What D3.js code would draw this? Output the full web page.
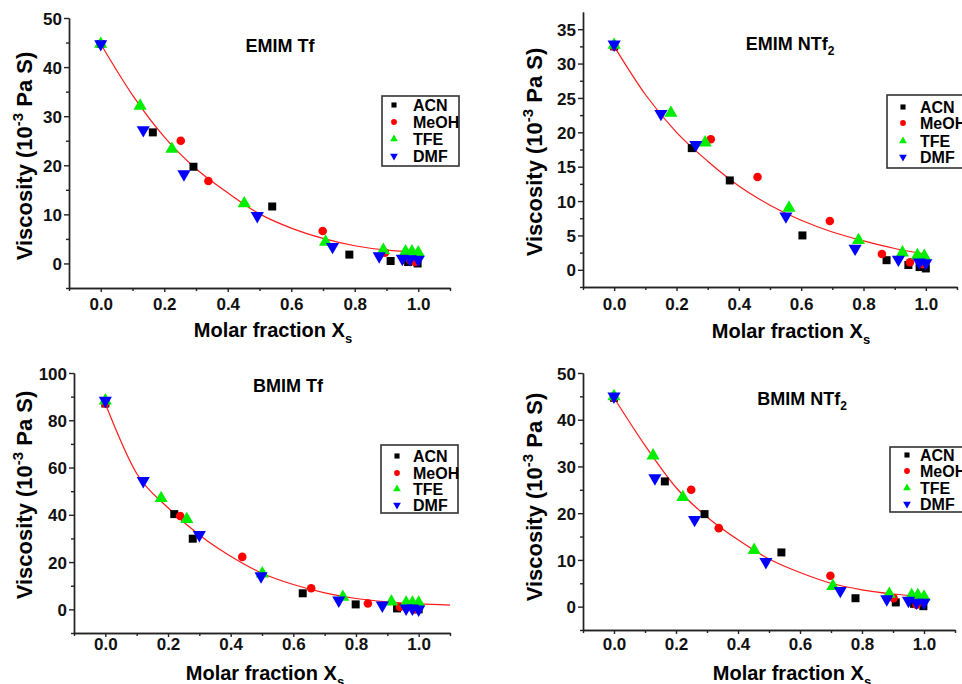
<!DOCTYPE html>
<html lang="en">
<head>
<meta charset="UTF-8">
<title>Viscosity vs molar fraction</title>
<script src="https://cdn.jsdelivr.net/npm/d3@7"></script>
<style>
  body { margin: 0; background: #fff; }
  svg { display: block; font-family: "Liberation Sans", Arial, sans-serif; font-weight: bold; }
  .axis path, .axis line { stroke: #222; stroke-width: 1.4; }
  .axis text { font-size: 17px; font-weight: bold; fill: #111; font-family: "Liberation Sans", Arial, sans-serif; }
</style>
</head>
<body>
<svg id="chart" width="962" height="684"></svg>
<script>
// solvents shown in each panel
const solvents = ["ACN", "MeOH", "TFE", "DMF"];
const colors   = ["#000000", "#ff0000", "#00ee00", "#0000ff"];
const xMajor   = [0, 0.2, 0.4, 0.6, 0.8, 1.0];
const xMinor   = [-0.1, 0.1, 0.3, 0.5, 0.7, 0.9, 1.1];

// EMIM Tf  [Xs, viscosity]
const emimTf_ACN  = [[0, 44.7], [0.164, 26.7], [0.292, 19.7], [0.54, 11.6], [0.783, 1.8], [0.913, 0.5], [0.968, 0.3], [0.998, 0.0]];
const emimTf_MeOH = [[0, 44.7], [0.252, 25.0], [0.339, 16.8], [0.699, 6.6], [0.895, 2.2], [0.974, 0.7], [0.99, 0.3]];
const emimTf_TFE  = [[0, 44.7], [0.124, 32.1], [0.224, 23.3], [0.452, 12.2], [0.708, 4.4], [0.89, 2.7], [0.96, 2.4], [0.98, 2.4], [1.0, 2.2]];
const emimTf_DMF  = [[0, 44.7], [0.134, 27.2], [0.262, 18.2], [0.493, 9.7], [0.73, 3.4], [0.877, 1.5], [0.95, 1.0], [0.974, 0.9], [1.0, 0.8]];
const emimTf_fit  = [[0, 44.7], [0.1, 34.3], [0.2, 25.8], [0.3, 19.3], [0.4, 14.4], [0.5, 10.1], [0.6, 7.2], [0.7, 5.1], [0.8, 3.6], [0.9, 2.7], [1.0, 2.3]];

// EMIM NTf2
const emimNTf2_ACN  = [[0, 32.5], [0.249, 17.7], [0.371, 13.0], [0.604, 5.0], [0.874, 1.4], [0.944, 0.7], [0.98, 0.4], [1.0, 0.2]];
const emimNTf2_MeOH = [[0, 32.5], [0.31, 19.0], [0.46, 13.5], [0.692, 7.1], [0.859, 2.3], [0.949, 1.1], [0.99, 0.8]];
const emimNTf2_TFE  = [[0, 32.7], [0.182, 22.8], [0.292, 18.5], [0.561, 9.0], [0.784, 4.3], [0.925, 2.5], [0.973, 2.1], [0.995, 2.0]];
const emimNTf2_DMF  = [[0, 32.8], [0.15, 22.7], [0.262, 18.2], [0.551, 7.8], [0.773, 3.1], [0.912, 1.5], [0.979, 1.1], [1.0, 1.0]];
const emimNTf2_fit  = [[0, 32.5], [0.1, 25.5], [0.2, 20.0], [0.3, 15.8], [0.4, 12.2], [0.5, 9.4], [0.6, 7.2], [0.7, 5.5], [0.8, 4.2], [0.9, 3.1], [1.0, 2.3]];

// BMIM Tf
const bmimTf_ACN  = [[0, 87.1], [0.22, 40.3], [0.279, 29.9], [0.63, 6.8], [0.799, 2.1], [0.931, 0.4], [1.0, 0.0]];
const bmimTf_MeOH = [[0, 87.1], [0.239, 39.5], [0.437, 22.2], [0.657, 8.9], [0.838, 2.5], [0.94, 1.0], [0.984, 0.0]];
const bmimTf_TFE  = [[0, 88.3], [0.178, 47.0], [0.26, 38.1], [0.501, 15.1], [0.758, 5.2], [0.913, 3.2], [0.96, 2.8], [0.98, 2.8], [1.0, 2.8]];
const bmimTf_DMF  = [[0, 88.3], [0.121, 54.4], [0.30, 31.5], [0.497, 14.1], [0.745, 3.8], [0.884, 1.7], [0.96, 0.4], [0.98, 0.4], [1.0, 0.0]];
const bmimTf_fit  = [[0, 87.0], [0.1, 57.5], [0.2, 43.0], [0.3, 31.5], [0.4, 22.5], [0.5, 15.3], [0.6, 10.5], [0.7, 7.0], [0.8, 4.6], [0.9, 3.2], [1.0, 2.3], [1.1, 1.8]];

// BMIM NTf2
const bmimNTf2_ACN  = [[0, 44.7], [0.164, 26.8], [0.292, 19.8], [0.54, 11.6], [0.779, 1.8], [0.909, 0.9], [0.968, 0.6], [0.998, 0.1]];
const bmimNTf2_MeOH = [[0, 44.7], [0.249, 25.0], [0.338, 16.8], [0.698, 6.6], [0.902, 1.8], [0.976, 0.4]];
const bmimNTf2_TFE  = [[0, 45.0], [0.126, 32.3], [0.222, 23.4], [0.452, 12.1], [0.706, 4.4], [0.888, 2.7], [0.96, 2.4], [0.98, 2.4], [1.0, 2.1]];
const bmimNTf2_DMF  = [[0, 45.0], [0.132, 27.5], [0.26, 18.6], [0.49, 9.6], [0.73, 3.4], [0.88, 1.6], [0.95, 1.3], [0.976, 0.9], [1.0, 0.9]];
const bmimNTf2_fit  = [[0, 44.7], [0.1, 34.5], [0.2, 25.5], [0.3, 19.2], [0.4, 14.3], [0.5, 10.2], [0.6, 7.3], [0.7, 5.0], [0.8, 3.6], [0.9, 2.7], [1.0, 2.1]];

const svg = d3.select("#chart");

const panels = [
  { ion: "EMIM", anion: "Tf", series: [emimTf_ACN, emimTf_MeOH, emimTf_TFE, emimTf_DMF], fit: emimTf_fit,
    yDom: [-5, 50], yMajor: d3.range(0, 51, 10), yMinor: d3.range(-5, 50, 10),
    x0: 69, x1: 450, y0: 288, y1: 18, title: [280, 52], ylab: [32, 156], xlab: [273, 337], tickBase: 310,
    legend: { x: 382, y: 96, w: 77, h: 70, mx: 394, tx: 413, rows: [105, 122, 139, 156] } },
  { ion: "EMIM", anion: "NTf", sub: "2", series: [emimNTf2_ACN, emimNTf2_MeOH, emimNTf2_TFE, emimNTf2_DMF], fit: emimNTf2_fit,
    yDom: [-2.5, 37.5], yMajor: d3.range(0, 36, 5), yMinor: d3.range(-2.5, 37.5, 5),
    x0: 583, x1: 957, y0: 287, y1: 12, title: [790, 50], ylab: [542, 152], xlab: [791, 338], tickBase: 310,
    legend: { x: 887, y: 95, w: 90, h: 73, mx: 903, tx: 920, rows: [107, 123, 141, 157] } },
  { ion: "BMIM", anion: "Tf", series: [bmimTf_ACN, bmimTf_MeOH, bmimTf_TFE, bmimTf_DMF], fit: bmimTf_fit,
    yDom: [-10, 100], yMajor: d3.range(0, 101, 20), yMinor: d3.range(-10, 100, 20),
    x0: 74, x1: 450, y0: 633, y1: 373, title: [288, 392], ylab: [32, 495], xlab: [265, 680], tickBase: 650,
    legend: { x: 381, y: 445, w: 77, h: 68, mx: 397, tx: 413, rows: [456, 473, 489, 505] } },
  { ion: "BMIM", anion: "NTf", sub: "2", series: [bmimNTf2_ACN, bmimNTf2_MeOH, bmimNTf2_TFE, bmimNTf2_DMF], fit: bmimNTf2_fit,
    yDom: [-5, 50], yMajor: d3.range(0, 51, 10), yMinor: d3.range(-5, 50, 10),
    x0: 583, x1: 955, y0: 630, y1: 373, title: [802, 405], ylab: [542, 497], xlab: [792, 680], tickBase: 650,
    legend: { x: 890, y: 447, w: 90, h: 65, mx: 907, tx: 920, rows: [455, 471, 488, 504] } }
];

function marker(i, size) {
  const type = [d3.symbolSquare, d3.symbolCircle, d3.symbolTriangle, d3.symbolTriangle][i];
  return d3.symbol().type(type).size(size)();
}

panels.forEach(p => {
  const x = d3.scaleLinear().domain([-0.1, 1.1]).range([p.x0, p.x1]);
  const y = d3.scaleLinear().domain(p.yDom).range([p.y0, p.y1]);
  const g = svg.append("g");

  // axes: major ticks with labels, minor ticks without
  g.append("g").attr("class", "axis").attr("transform", `translate(0,${p.y0})`)
    .call(d3.axisBottom(x).tickValues(xMinor).tickSize(3).tickFormat("").tickSizeOuter(0));
  const xa = g.append("g").attr("class", "axis").attr("transform", `translate(0,${p.y0})`)
    .call(d3.axisBottom(x).tickValues(xMajor).tickSize(4).tickSizeOuter(0).tickFormat(d3.format(".1f")));
  xa.selectAll("text").attr("y", p.tickBase - p.y0).attr("dy", 0);

  g.append("g").attr("class", "axis").attr("transform", `translate(${p.x0},0)`)
    .call(d3.axisLeft(y).tickValues(p.yMinor).tickSize(3).tickFormat("").tickSizeOuter(0));
  g.append("g").attr("class", "axis").attr("transform", `translate(${p.x0},0)`)
    .call(d3.axisLeft(y).tickValues(p.yMajor).tickSize(5).tickPadding(2).tickSizeOuter(0))
    .selectAll("text").attr("dy", "0.36em");

  // fit curve
  g.append("path").datum(p.fit)
    .attr("fill", "none").attr("stroke", "#ff1a1a").attr("stroke-width", 1.2)
    .attr("d", d3.line().x(d => x(d[0])).y(d => y(d[1])).curve(d3.curveMonotoneX));

  // data points
  p.series.forEach((s, i) => {
    const sz = [64, 58, 75, 75][i];
    g.append("g").selectAll("path").data(s).join("path")
      .attr("d", marker(i, sz))
      .attr("transform", d => `translate(${x(d[0])},${y(d[1])})` + (i === 3 ? " rotate(180)" : ""))
      .attr("fill", colors[i]);
  });

  // title
  const t = g.append("text").attr("x", p.title[0]).attr("y", p.title[1])
    .attr("text-anchor", "middle").attr("font-size", 18).text(`${p.ion} ${p.anion}`);
  if (p.sub) t.append("tspan").attr("font-size", 12).attr("dy", 5).text(p.sub);

  // legend
  const L = p.legend;
  const lg = g.append("g");
  lg.append("rect").attr("x", L.x).attr("y", L.y).attr("width", L.w).attr("height", L.h)
    .attr("fill", "#fff").attr("stroke", "#333").attr("stroke-width", 1.6);
  solvents.forEach((name, i) => {
    lg.append("path").attr("d", marker(i, 26))
      .attr("transform", `translate(${L.mx},${L.rows[i]})` + (i === 3 ? " rotate(180)" : ""))
      .attr("fill", colors[i]);
    lg.append("text").attr("x", L.tx).attr("y", L.rows[i]).attr("dy", "0.36em")
      .attr("font-size", 16).text(name);
  });

  // axis titles
  const xt = g.append("text").attr("x", p.xlab[0]).attr("y", p.xlab[1])
    .attr("text-anchor", "middle").attr("font-size", 20).text("Molar fraction X");
  xt.append("tspan").attr("font-size", 13).attr("dy", 6).text("s");

  const yt = g.append("text").attr("transform", `translate(${p.ylab[0]},${p.ylab[1]}) rotate(-90)`)
    .attr("text-anchor", "middle").attr("font-size", 22).text("Viscosity (10");
  yt.append("tspan").attr("font-size", 15).attr("dy", -9).text("-3");
  yt.append("tspan").attr("dy", 9).text(" Pa S)");
});
</script>
</body>
</html>
